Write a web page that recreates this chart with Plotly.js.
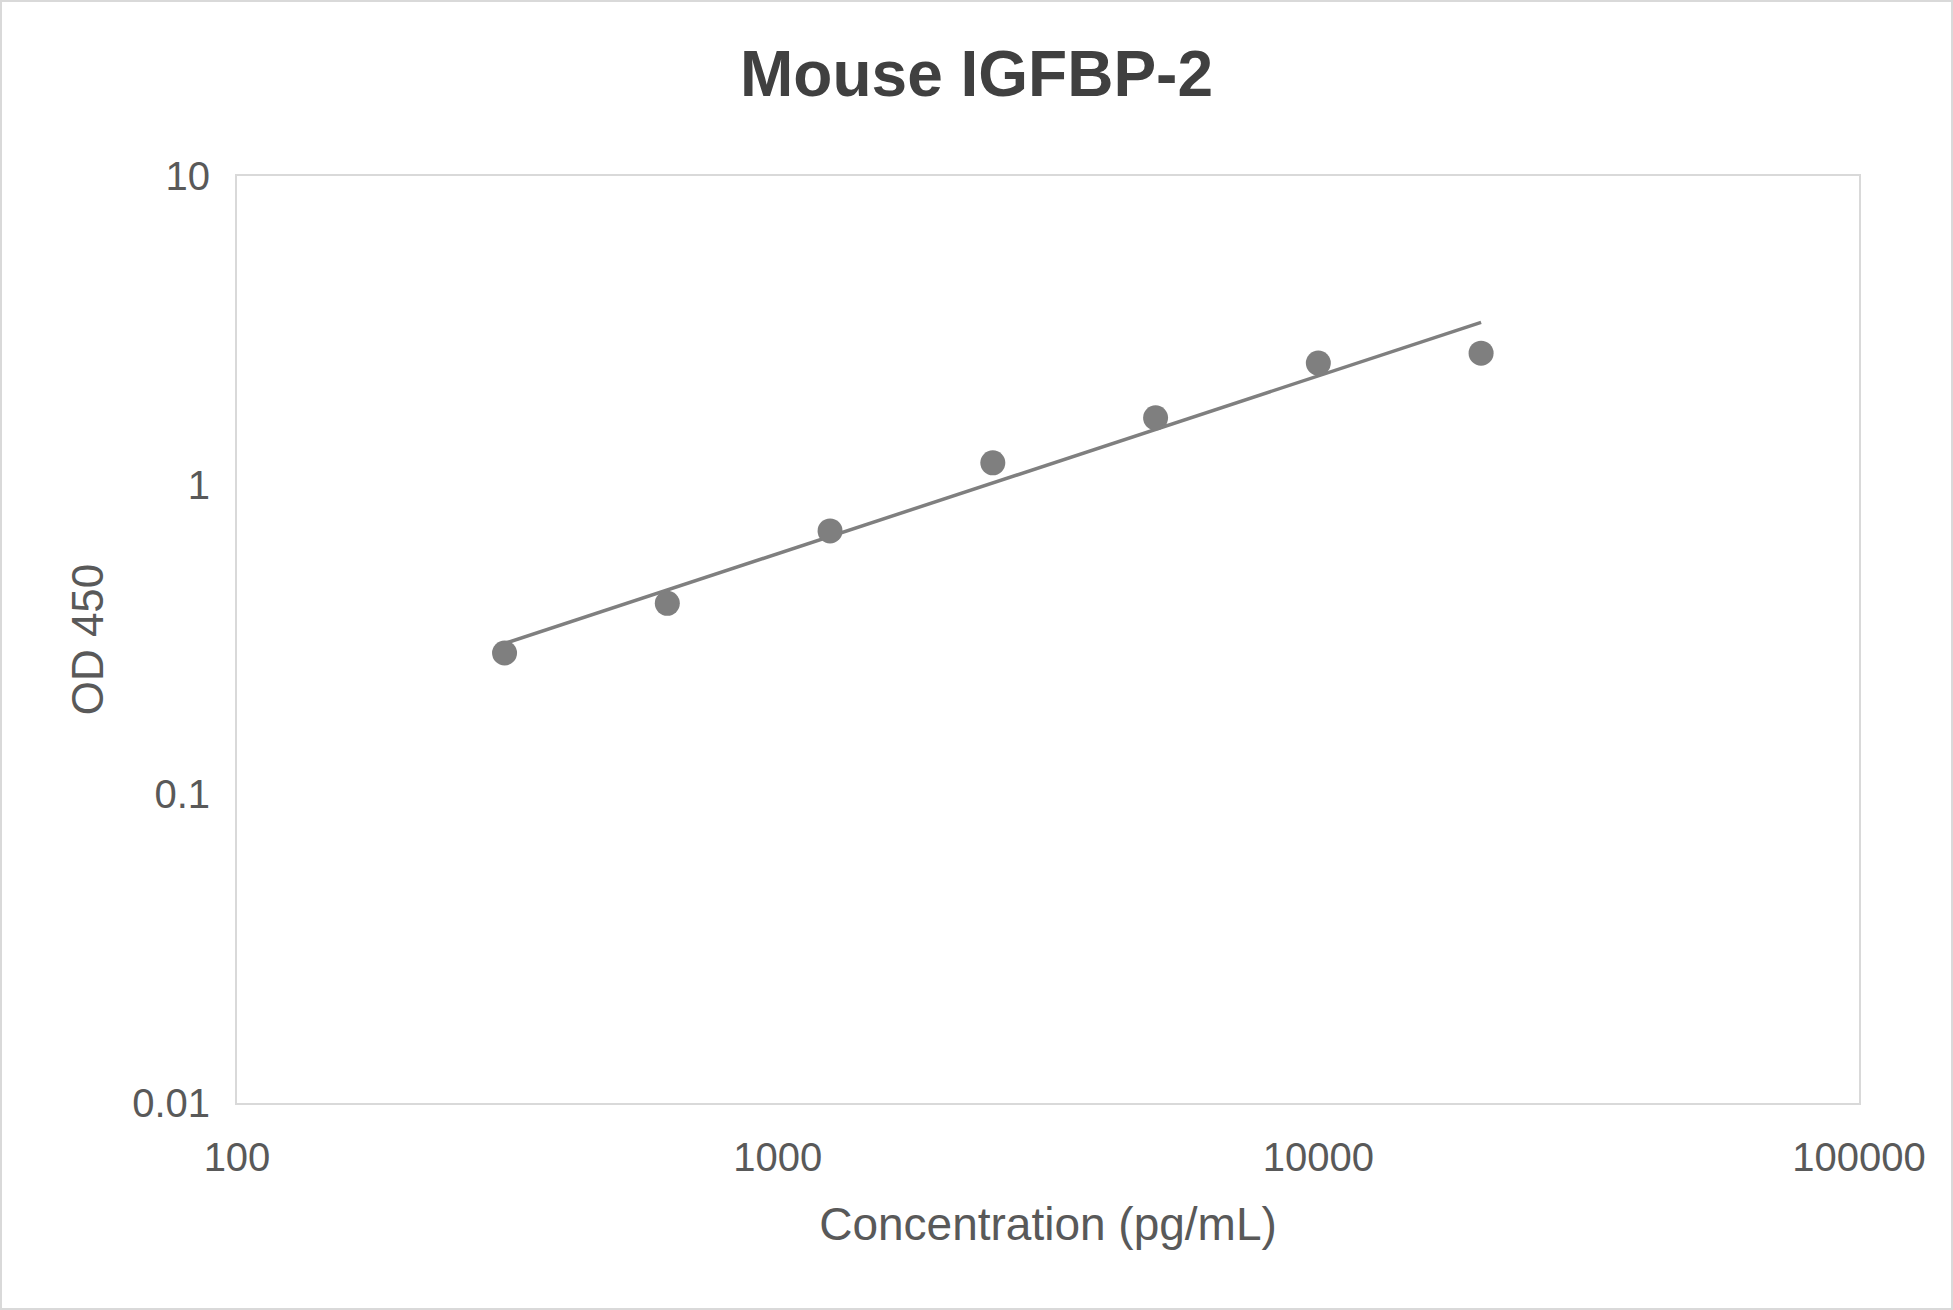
<!DOCTYPE html>
<html>
<head>
<meta charset="utf-8">
<script src="https://cdn.plot.ly/plotly-3.0.1.min.js"></script>
<style>
  html, body { margin: 0; padding: 0; background: #fff; }
  #chart { width: 1953px; height: 1310px; box-sizing: border-box; border: 2px solid #d9d9d9; }
</style>
</head>
<body>
<div id="chart"></div>
<script>
// standard curve points
const conc = [312.5, 625, 1250, 2500, 5000, 10000, 20000];
const od = [0.286, 0.414, 0.71, 1.18, 1.65, 2.48, 2.67];

// trendline ends
const trendX = [312.5, 20000];
const trendY = [0.307, 3.36];

const xTicks = [100, 1000, 10000, 100000];
const xTickText = ['100', '1000', '10000', '100000'];
const yTicks = [0.01, 0.1, 1, 10];
const yTickText = ['0.01', '0.1', '1', '10'];

const grey = '#7f7f7f';
const textCol = '#595959';

Plotly.newPlot('chart', [
  {
    x: trendX,
    y: trendY,
    mode: 'lines',
    line: { color: grey, width: 3.5 },
    hoverinfo: 'skip'
  },
  {
    x: conc,
    y: od,
    mode: 'markers',
    marker: { color: grey, size: 25 }
  }
], {
  width: 1949,
  height: 1306,
  showlegend: false,
  paper_bgcolor: '#fff',
  plot_bgcolor: '#fff',
  margin: { l: 235, r: 92, t: 174, b: 205 },
  font: { family: 'Liberation Sans, Arial, sans-serif', color: textCol },
  title: {
    text: '<b>Mouse IGFBP-2</b>',
    font: { size: 64, color: '#404040' },
    x: 0.5,
    xanchor: 'center',
    y: 0.945,
    yanchor: 'middle'
  },
  xaxis: {
    type: 'log',
    range: [2, 5],
    tickvals: xTicks,
    ticktext: xTickText,
    tickfont: { size: 40, color: textCol },
    showgrid: false,
    zeroline: false,
    showline: true,
    mirror: true,
    linecolor: '#d9d9d9',
    linewidth: 2,
    ticks: '',
    ticklabelstandoff: 18,
    title: { text: 'Concentration (pg/mL)', font: { size: 46, color: textCol }, standoff: 30 }
  },
  yaxis: {
    type: 'log',
    range: [-2, 1],
    tickvals: yTicks,
    ticktext: yTickText,
    tickfont: { size: 40, color: textCol },
    showgrid: false,
    zeroline: false,
    showline: true,
    mirror: true,
    linecolor: '#d9d9d9',
    linewidth: 2,
    ticks: '',
    ticklabelstandoff: 17,
    title: { text: 'OD 450', font: { size: 44, color: textCol }, standoff: 15 }
  }
}, { displayModeBar: false, staticPlot: true });
</script>
</body>
</html>
